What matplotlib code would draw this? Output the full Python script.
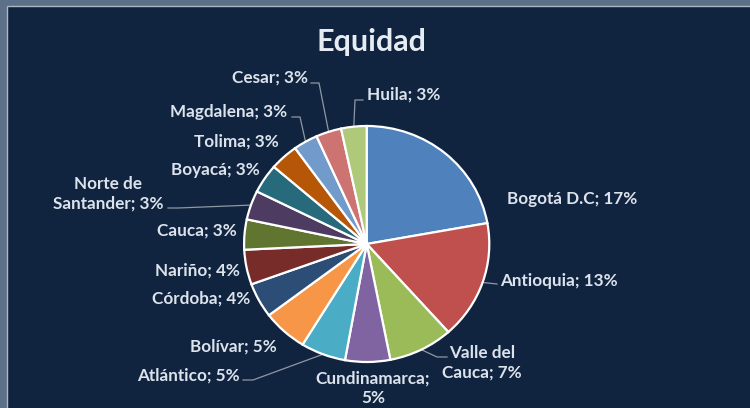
import matplotlib
matplotlib.use("Agg")
import matplotlib.pyplot as plt
from matplotlib.patches import Rectangle
from matplotlib.lines import Line2D
import numpy as np

# ---------------- data ----------------
departments = ["Bogotá D.C", "Antioquia", "Valle del\nCauca", "Cundinamarca;\n", "Atlántico",
               "Bolívar", "Córdoba", "Nariño", "Cauca", "Norte de\nSantander", "Boyacá",
               "Tolima", "Magdalena", "Cesar", "Huila"]
values = [17.2, 12.6, 6.6, 4.6, 4.6, 4.6, 3.7, 3.7, 3.2, 3.1, 3.1, 2.9, 2.5, 2.6, 2.6]
pct_labels = [17, 13, 7, 5, 5, 5, 4, 4, 3, 3, 3, 3, 3, 3, 3]
colors = ["#4F81BD", "#C0504D", "#9BBB59", "#8064A2", "#4BACC6", "#F79646",
          "#2C4D75", "#772C2A", "#5F7530", "#4D3B62", "#276A7C", "#B65708",
          "#729ACA", "#CD7371", "#AFC97A"]
title = "Equidad"

# ---------------- style ----------------
W, H = 750, 408
FONT = "Lato"
TXT = "#DCE3EC"
NAVY = "#11243F"
LEAD = "#8E98A4"

fig = plt.figure(figsize=(W / 100, H / 100), dpi=100, facecolor="#5C7089")

def fp(x, y):
    """figure-fraction coords from top-left pixel coords"""
    return x / W, 1 - y / H

fig.patches.append(Rectangle(fp(6.5, 410), 800 / W, (410 - 5.5) / H,
                             transform=fig.transFigure, facecolor=NAVY,
                             edgecolor="#AEB6C0", linewidth=1.0, zorder=-5))

# pie axes (slightly elliptical like the reference)
cx, cy, rx, ry = 366.7, 244.0, 122.6, 118.0
l, b = fp(cx - rx, cy + ry)
ax = fig.add_axes([l, b, 2 * rx / W, 2 * ry / H], zorder=2)
ax.patch.set_visible(False)
wedges, _ = ax.pie(values, colors=colors, startangle=90, counterclock=False,
                   wedgeprops=dict(edgecolor="white", linewidth=1.6))
ax.set_aspect("auto")
ax.set_xlim(-1, 1)
ax.set_ylim(-1, 1)
ax.axis("off")

fig.text(*fp(371, 42), title, ha="center", va="center", color="#E6ECF2",
         fontsize=22, fontweight="bold", family=FONT)

# label positions (pixel, top-left origin) and alignment
label_pos = [
    (507, 199, "left"), (500, 281, "left"), (482, 362.5, "center"),
    (373, 388.5, "center"), (240, 376, "right"), (277, 347, "right"),
    (250, 299, "right"), (240, 271, "right"), (237, 231, "right"),
    (108, 193.5, "center"), (260, 170, "right"), (279, 142, "right"),
    (287, 112, "right"), (308, 78, "right"), (367, 95, "left"),
]

for name, p, (x, y, ha) in zip(departments, pct_labels, label_pos):
    if name.endswith(";\n"):
        s = f"{name}{p}%"
    else:
        s = f"{name}; {p}%"
    fig.text(*fp(x, y), s, ha=ha, va="center", ma="center", color=TXT,
             fontsize=12.3, fontweight="bold", family=FONT, linespacing=1.3)

# leader lines: index -> label-side points (pixel, top-left origin)
leaders = {
    13: [(311, 83), (319, 83)],
    14: [(363, 100), (355, 100)],
    12: [(292, 117), (300, 117)],
    9: [(168, 208), (178, 208)],
    1: [(497, 284)],
    2: [(447, 357), (437, 357)],
    4: [(243, 380), (253, 380)],
}
fig.canvas.draw()
for i, pts in leaders.items():
    w = wedges[i]
    mid = np.deg2rad((w.theta1 + w.theta2) / 2)
    ex, ey = ax.transData.transform((np.cos(mid), np.sin(mid)))
    xs = [fp(*q)[0] for q in pts] + [ex / W]
    ys = [fp(*q)[1] for q in pts] + [ey / H]
    fig.add_artist(Line2D(xs, ys, transform=fig.transFigure, color=LEAD, lw=0.9))

fig.savefig("out.png", dpi=100, facecolor=fig.get_facecolor())
